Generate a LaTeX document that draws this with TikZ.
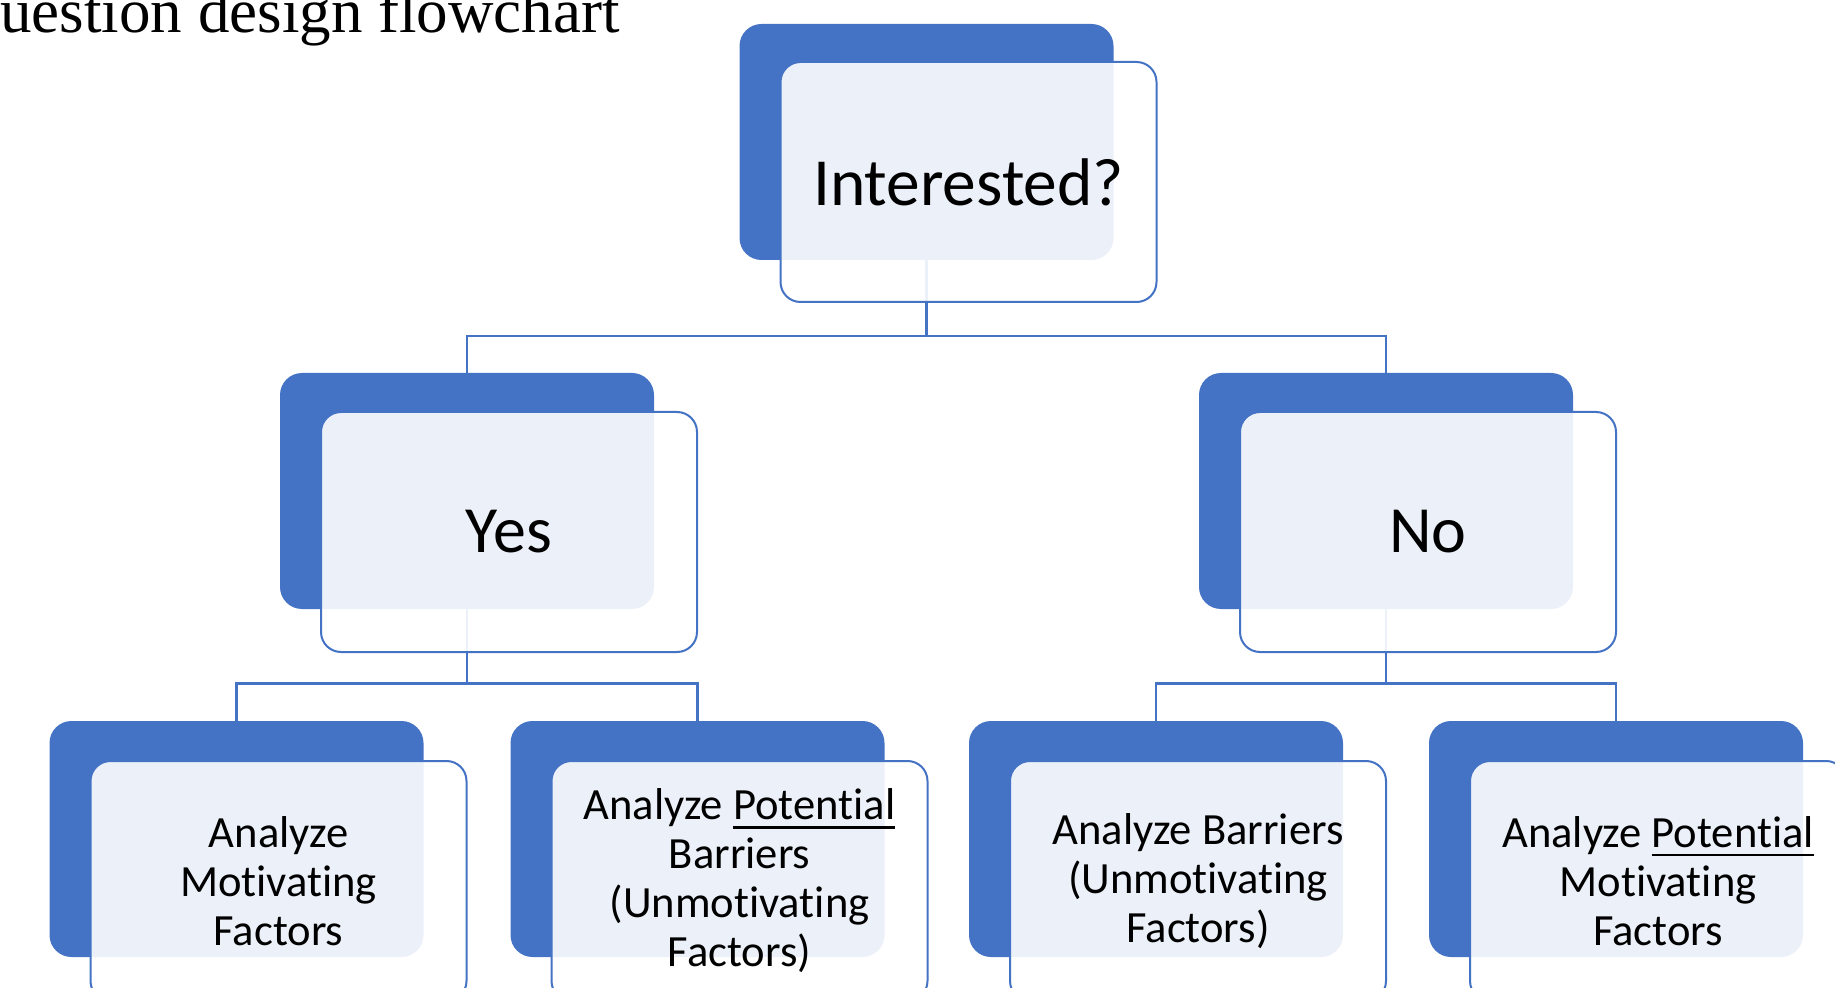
\documentclass[tikz,border=0pt]{standalone}
\usepackage{fontspec}
\setmainfont{Carlito}[Ligatures=NoCommon]
\newfontfamily\titlefont{Liberation Serif}
\definecolor{myblue}{HTML}{4472C4}
\newcommand\potul[1]{\setbox0\hbox{#1}\rlap{\raisebox{-0.2em}{\rule{\wd0}{1.2pt}}}\box0}
\begin{document}
\begin{tikzpicture}[x=0.5pt,y=-0.5pt,
  backbox/.style={fill=myblue, rounded corners=11pt, minimum width=187pt, minimum height=118pt, inner sep=0pt, outer sep=0pt, anchor=north west},
  frontbox/.style={draw=myblue, line width=1pt, fill=white, fill opacity=0.9, text opacity=1, draw opacity=1, rounded corners=10pt, minimum width=188pt, minimum height=120pt, inner sep=0pt, outer sep=0pt, anchor=north west, align=center},
  conn/.style={draw=myblue, line width=1.2pt},
  big/.style={font=\fontsize{33.7}{40}\selectfont},
  mid/.style={font=\fontsize{33}{40}\selectfont},
  small/.style={font=\fontsize{22.3}{24.5}\selectfont}]
\useasboundingbox (0,0) rectangle (1835,988);

\node[anchor=base west, inner sep=0pt, font=\titlefont\fontsize{31.5}{36}\selectfont] (title) at (0,33) {uestion design flowchart};

% back boxes
\node[backbox] (iB) at (739.5,24) {};
\node[backbox] (yB) at (280,373) {};
\node[backbox] (nB) at (1199,373) {};
\node[backbox] (aB) at (49.5,721) {};
\node[backbox] (bB) at (510.5,721) {};
\node[backbox] (cB) at (969,721) {};
\node[backbox] (dB) at (1429,721) {};

% connectors
\coordinate (h1) at (0,336);
\coordinate (h2) at (0,683.5);
\draw[conn] (iB.south) -- (iB.south |- h1);
\draw[conn] (yB.north) |- (nB.north |- h1) -- (nB.north);
\draw[conn] (yB.south) -- (yB.south |- h2);
\draw[conn] (aB.north) |- (bB.north |- h2) -- (bB.north);
\draw[conn] (nB.south) -- (nB.south |- h2);
\draw[conn] (cB.north) |- (dB.north |- h2) -- (dB.north);

% front boxes
\node[frontbox, big] (iF) at (780.5,62) {Interested?};
\node[frontbox, mid] (yF) at (321,412) {Yes};
\node[frontbox, mid] (nF) at (1240,412) {No};
\node[frontbox, small] (aF) at (90.5,761) {Analyze\\Motivating\\Factors};
\node[frontbox, small] (bF) at (551.5,761) {Analyze \potul{Potential}\\Barriers\\(Unmotivating\\Factors)};
\node[frontbox, small] (cF) at (1010,761) {Analyze Barriers\\(Unmotivating\\Factors)};
\node[frontbox, small] (dF) at (1470,761) {Analyze \potul{Potential}\\Motivating\\Factors};
\end{tikzpicture}
\end{document}
